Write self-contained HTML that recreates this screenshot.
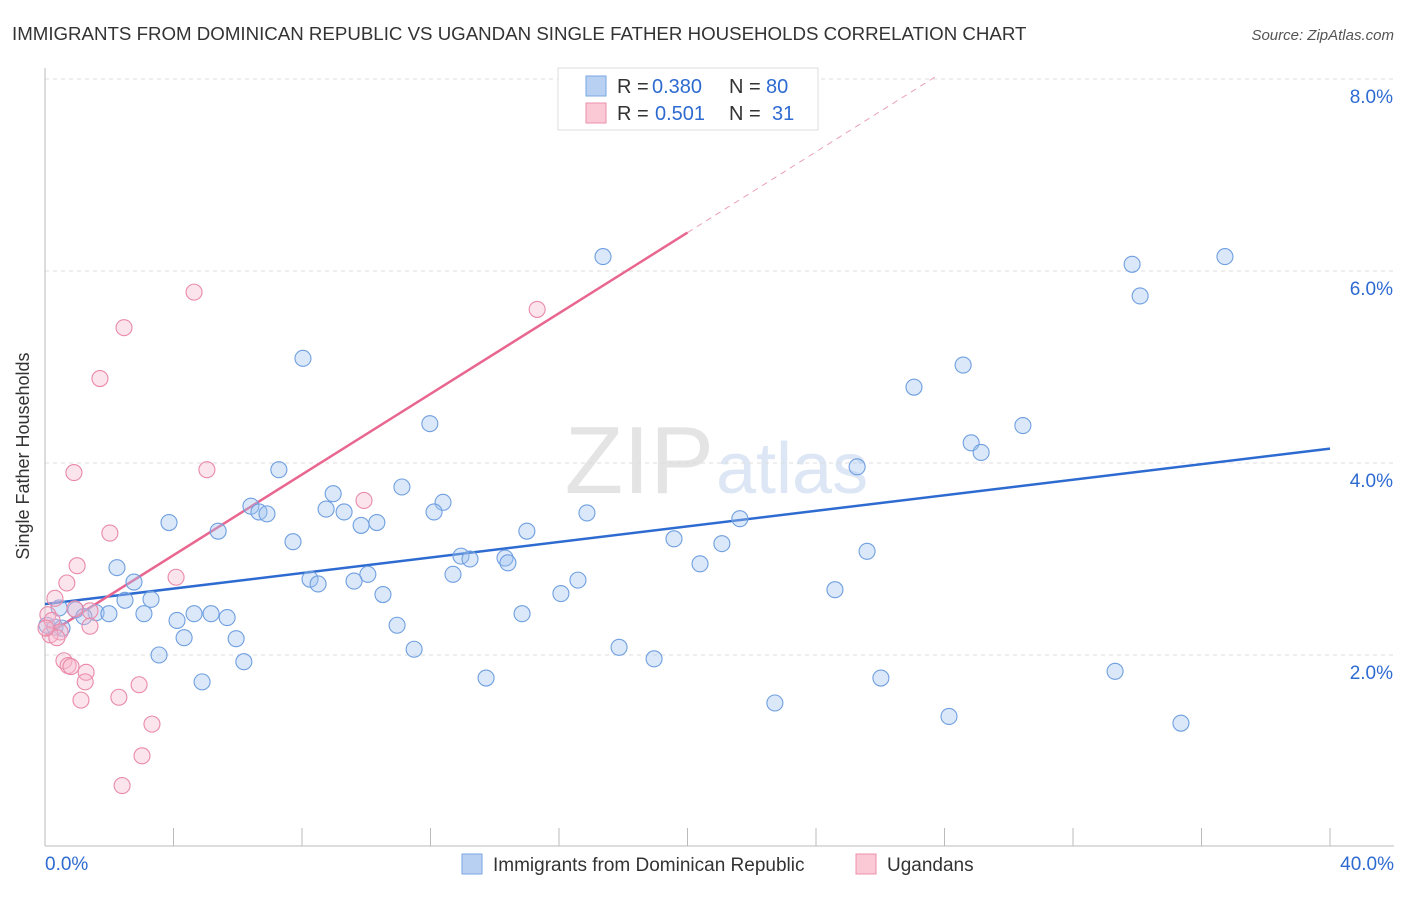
<!DOCTYPE html>
<html><head><meta charset="utf-8"><style>
body{margin:0;background:#fff;font-family:"Liberation Sans",sans-serif;}
svg text{font-family:"Liberation Sans",sans-serif;}
</style></head><body>
<svg id="chart" width="1406" height="892" xmlns="http://www.w3.org/2000/svg">
<text x="12" y="40" font-size="18.7" fill="#333">IMMIGRANTS FROM DOMINICAN REPUBLIC VS UGANDAN SINGLE FATHER HOUSEHOLDS CORRELATION CHART</text>
<text x="1394" y="40" font-size="15" fill="#555" font-style="italic" text-anchor="end">Source: ZipAtlas.com</text>
<text x="714" y="493" font-size="96" fill="#e4e4e4" text-anchor="end" font-family="Liberation Serif">ZIP</text>
<text x="716" y="493" font-size="72" fill="#dce6f5">atlas</text>
<g id="grid"></g><g id="axes"></g><g id="lines"></g><g id="pts"></g>
<text x="29" y="456" font-size="18" fill="#333" text-anchor="middle" transform="rotate(-90 29 456)">Single Father Households</text>
<g>
<rect x="558" y="68" width="260" height="62" fill="#fff" stroke="#ddd"/>
<rect x="586" y="76" width="20" height="20" fill="#b8d1f3" stroke="#7aa6e6"/>
<rect x="586" y="103" width="20" height="20" fill="#fbc8d6" stroke="#ec8fa9"/>
<text x="617" y="93" font-size="20" fill="#333">R =</text>
<text x="652" y="93" font-size="20" fill="#2e6bd1">0.380</text>
<text x="729" y="93" font-size="20" fill="#333">N =</text>
<text x="766" y="93" font-size="20" fill="#2e6bd1">80</text>
<text x="617" y="120" font-size="20" fill="#333">R =</text>
<text x="655" y="120" font-size="20" fill="#2e6bd1">0.501</text>
<text x="729" y="120" font-size="20" fill="#333">N =</text>
<text x="772" y="120" font-size="20" fill="#2e6bd1">31</text>
</g>
<g>
<rect x="462" y="854" width="20" height="20" fill="#b8d1f3" stroke="#7aa6e6"/>
<text x="493" y="871" font-size="19" fill="#333">Immigrants from Dominican Republic</text>
<rect x="856" y="854" width="20" height="20" fill="#fbc8d6" stroke="#ec8fa9"/>
<text x="887" y="871" font-size="19" fill="#333">Ugandans</text>
</g>
</svg>
<script>
const blueX=[17.37,33.84,36.73,34.09,8.03,28.58,27.05,11.98,30.44,28.83,29.14,25.28,7.28,11.11,8.97,12.39,6.41,6.66,6.91,8.75,9.31,12.11,16.87,3.86,9.84,10.33,5.39,15.00,21.63,7.72,19.58,21.07,12.95,14.32,13.23,14.41,25.59,2.24,12.70,10.05,8.25,8.50,9.62,20.39,16.59,2.77,2.49,3.30,16.06,10.52,24.59,0.44,0.96,1.59,1.99,1.21,3.08,4.64,5.17,5.67,4.11,14.85,0.06,0.31,0.53,10.96,5.95,4.33,17.87,11.49,3.55,18.96,6.19,33.31,13.73,26.02,4.89,22.72,28.14,35.36];
const blueY=[6.15,6.07,6.15,5.74,5.09,5.02,4.79,4.41,4.39,4.21,4.11,3.96,3.93,3.75,3.68,3.59,3.55,3.49,3.47,3.52,3.49,3.49,3.48,3.38,3.35,3.38,3.29,3.29,3.42,3.18,3.21,3.16,3.03,3.01,3.00,2.96,3.08,2.91,2.84,2.84,2.79,2.74,2.77,2.95,2.78,2.76,2.57,2.58,2.64,2.63,2.68,2.49,2.47,2.44,2.43,2.40,2.43,2.43,2.43,2.39,2.36,2.43,2.31,2.29,2.28,2.31,2.17,2.18,2.08,2.06,2.00,1.96,1.93,1.83,1.76,1.76,1.72,1.50,1.36,1.29];
const pinkX=[4.64,2.46,15.32,1.71,0.90,5.04,9.93,2.02,1.00,4.08,0.68,0.31,1.40,0.93,0.09,0.22,0.47,0.16,0.37,1.40,0.03,0.59,0.72,0.81,1.28,1.25,2.93,1.12,2.30,3.33,3.02,2.40];
const pinkY=[5.78,5.41,5.60,4.88,3.90,3.93,3.61,3.27,2.93,2.81,2.75,2.59,2.46,2.48,2.42,2.36,2.24,2.21,2.18,2.30,2.28,1.94,1.89,1.88,1.82,1.72,1.69,1.53,1.56,1.28,0.95,0.64];
const yTicks=[2,4,6,8];
const xTickLabels=["0.0%","40.0%"];
const blueFit=[2.53,4.15];
const pinkFit=[2.2,6.4,8.02];
const xs=v=>45+v*32.125, ys=v=>847-v*96;
const NS="http://www.w3.org/2000/svg";
function mk(p,t,a){const e=document.createElementNS(NS,t);for(const k in a)e.setAttribute(k,a[k]);document.getElementById(p).appendChild(e);return e;}
yTicks.forEach(t=>{
 const l=mk('grid','line',{x1:45,x2:1394,y1:ys(t),y2:ys(t),stroke:'#ddd','stroke-dasharray':'4,4'});
 
 
 const tx=mk('grid','text',{x:1393,y:ys(t)+24,'font-size':19,fill:'#2e6bd1','text-anchor':'end'});
 tx.textContent=t.toFixed(1)+'%';
 
 
});
mk('axes','line',{x1:45,x2:45,y1:68,y2:846,stroke:'#bbb'});
mk('axes','line',{x1:45,x2:1394,y1:846,y2:846,stroke:'#bbb'});
for(let i=0;i<=10;i++){mk('axes','line',{x1:xs(i*4),x2:xs(i*4),y1:828,y2:846,stroke:'#bbb'});}
const t0=mk('axes','text',{x:45,y:870,'font-size':19,fill:'#2e6bd1'});t0.textContent=xTickLabels[0];


const t1=mk('axes','text',{x:1394,y:870,'font-size':19,fill:'#2e6bd1','text-anchor':'end'});t1.textContent=xTickLabels[1];


blueX.forEach((x,i)=>{
 const c=mk('pts','circle',{cx:xs(x),cy:ys(blueY[i]),r:8,fill:'rgba(160,195,240,0.38)',stroke:'#6f9fe0','stroke-width':1.1});
 
 
});
pinkX.forEach((x,i)=>{
 const c=mk('pts','circle',{cx:xs(x),cy:ys(pinkY[i]),r:8,fill:'rgba(248,185,205,0.38)',stroke:'#e98aa8','stroke-width':1.1});
 
 
});
const bl=mk('lines','line',{x1:xs(0),y1:ys(blueFit[0]),x2:xs(40),y2:ys(blueFit[1]),stroke:'#2e6bd1','stroke-width':2.5});


const pl=mk('lines','line',{x1:xs(0),y1:ys(pinkFit[0]),x2:xs(20),y2:ys(pinkFit[1]),stroke:'#e8668f','stroke-width':2.5});


const pd=mk('lines','line',{x1:xs(20),y1:ys(pinkFit[1]),x2:xs(27.7),y2:ys(pinkFit[2]),stroke:'#eaa0b8','stroke-width':1,'stroke-dasharray':'6,5'});


</script>
</body></html>
